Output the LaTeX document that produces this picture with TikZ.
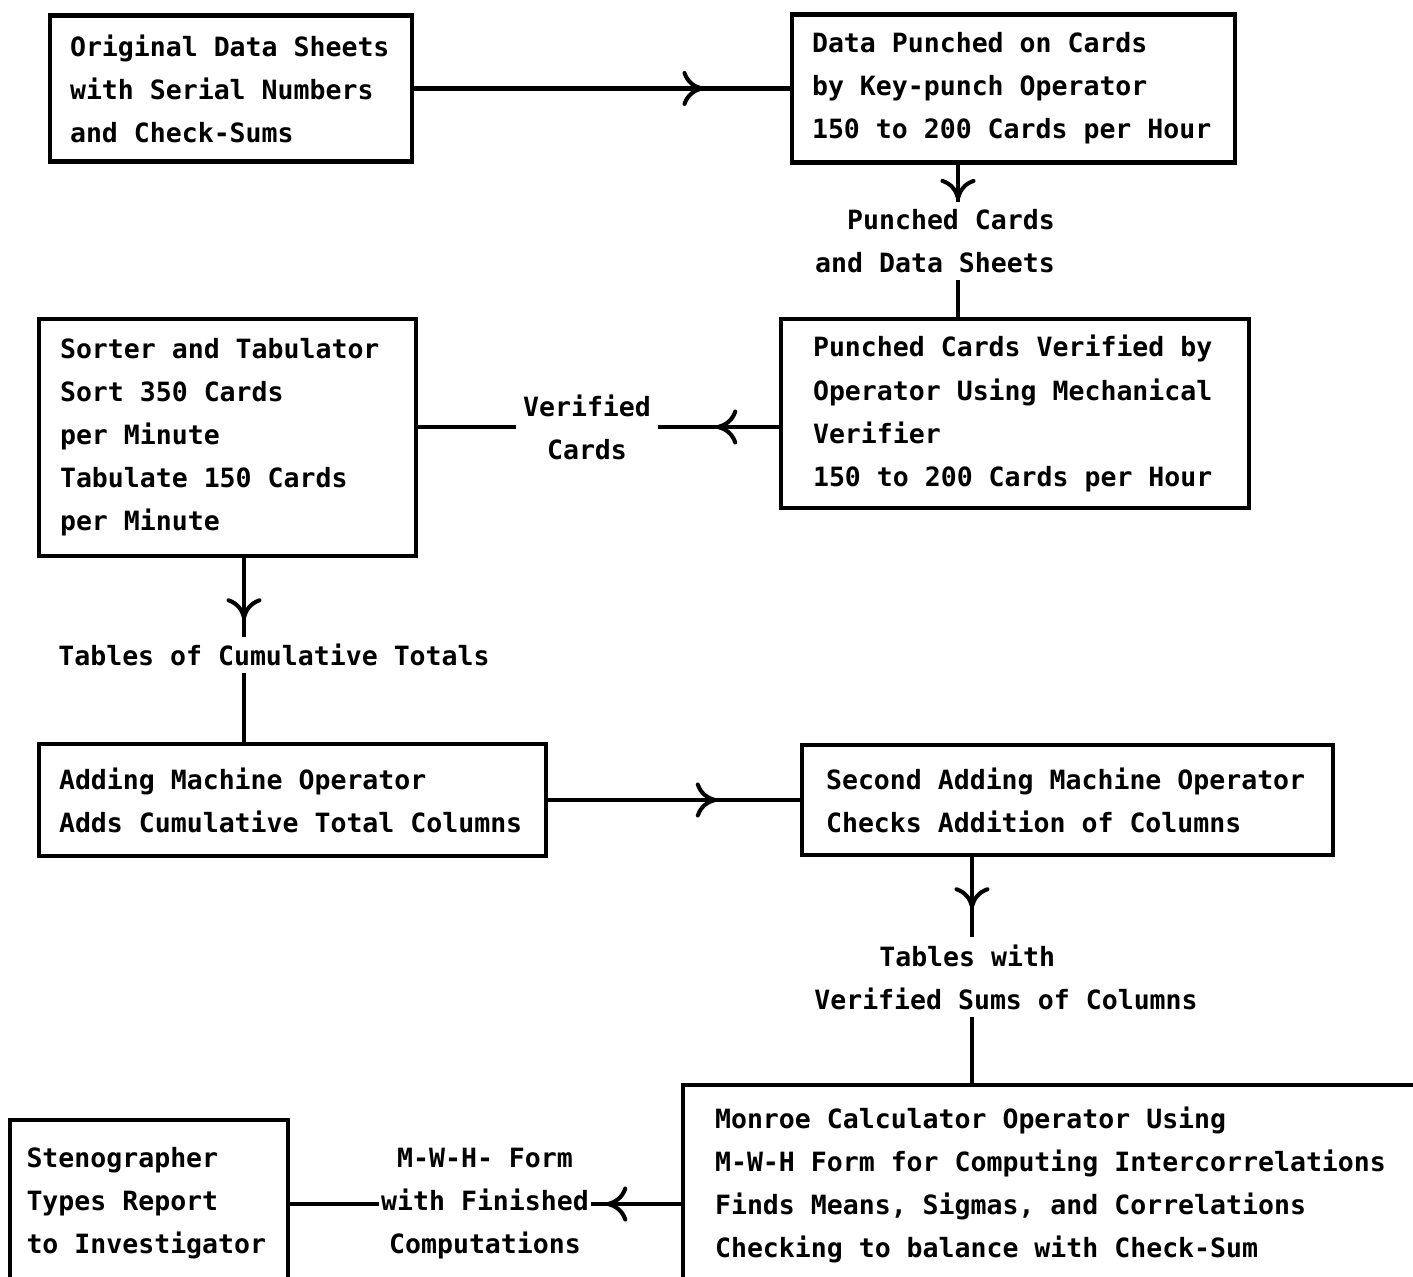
\documentclass[tikz,border=0pt]{standalone}
\usepackage{fontspec}
\usetikzlibrary{arrows.meta,decorations.markings}
\newfontfamily\typefont{DejaVu Sans Mono}
\newcommand{\boxfont}{\typefont\bfseries\fontsize{15.1}{24.5}\selectfont}

\tikzset{
  stage/.style={draw, line width=2.3pt, align=left, font=\boxfont, inner ysep=0pt,
    execute at begin node={\spaceskip=0pt\xspaceskip=0pt}},
  tag/.style={font=\boxfont, inner xsep=4pt, inner ysep=4pt},
  flow/.style={line width=2.3pt},
  midtip/.style={postaction={decorate},
    decoration={markings, mark=at position #1 with {\arrow{Computer Modern Rightarrow[length=12pt,width=20pt]}}}}
}

\begin{document}
\begin{tikzpicture}[x=0.02cm, y=-0.02cm]
  \useasboundingbox (0,0) rectangle (1413,1277);
  \clip (0,0) rectangle (1413,1277);

  % boxes
  \node[stage, minimum width=7.24cm, minimum height=2.92cm, text width=6.44cm, inner xsep=0.40cm] (orig) at (231,88.5)
    {Original Data Sheets\\with Serial Numbers\\and Check-Sums};
  \node[stage, minimum width=8.86cm, minimum height=2.96cm, text width=8.06cm, inner xsep=0.40cm] (dpc) at (1013.5,88.5)
    {Data Punched on Cards\\by Key-punch Operator\\150 to 200 Cards per Hour};
  \node[stage, minimum width=9.36cm, minimum height=3.78cm, text width=8.08cm, inner xsep=0.64cm] (pcv) at (1015,413.5)
    {Punched Cards Verified by\\Operator Using Mechanical\\Verifier\\150 to 200 Cards per Hour};
  \node[stage, minimum width=7.54cm, minimum height=4.74cm, text width=6.70cm, inner xsep=0.42cm] (sort) at (227.5,437.5)
    {Sorter and Tabulator\\Sort 350 Cards\\per Minute\\Tabulate 150 Cards\\per Minute};
  \node[stage, minimum width=10.14cm, minimum height=2.24cm, text width=9.34cm, inner xsep=0.40cm] (add) at (292.5,800)
    {Adding Machine Operator\\Adds Cumulative Total Columns};
  \node[stage, minimum width=10.62cm, minimum height=2.20cm, text width=9.66cm, inner xsep=0.48cm] (chk) at (1067.5,800)
    {Second Adding Machine Operator\\Checks Addition of Columns};
  \node[stage, minimum width=15.14cm, minimum height=4.00cm, text width=13.86cm, inner xsep=0.64cm] (monroe) at (1061.5,1185)
    {Monroe Calculator Operator Using\\M-W-H Form for Computing Intercorrelations\\Finds Means, Sigmas, and Correlations\\Checking to balance with Check-Sum};
  \node[stage, minimum width=5.56cm, minimum height=3.32cm, text width=4.90cm, inner xsep=0.33cm] (steno) at (149,1203)
    {Stenographer\\Types Report\\to Investigator};

  % labels between the boxes
  \node[tag, align=right] (pcl) at (935,241) {Punched Cards\\and Data Sheets};
  \node[tag, align=center] (vc) at (587,427) {Verified\\Cards};
  \node[tag] (tct) at (274,655) {Tables of Cumulative Totals};
  \node[tag, align=left] (tvs) at (1006,977) {\hspace*{1.3cm}Tables with\\Verified Sums of Columns};
  \node[tag, align=center, inner xsep=1pt] (mwh) at (485,1204) {M-W-H- Form\\with Finished\\Computations};

  \coordinate (k1) at (958,0);
  \coordinate (k2) at (244,0);
  \coordinate (k3) at (972,0);

  % connectors
  \draw[flow, midtip=0.77] (orig.east) -- (dpc.west);
  \draw[flow, midtip=0.95] (dpc.south -| k1) -- (pcl.north -| k1);
  \draw[flow] (pcl.south -| k1) -- (pcv.north -| k1);
  \draw[flow, midtip=0.52] (pcv.west |- vc) -- (vc.east);
  \draw[flow] (vc.west) -- (sort.east |- vc);
  \draw[flow, midtip=0.78] (sort.south -| k2) -- (tct.north -| k2);
  \draw[flow] (tct.south -| k2) -- (add.north -| k2);
  \draw[flow, midtip=0.67] (add.east) -- (chk.west);
  \draw[flow, midtip=0.64] (chk.south -| k3) -- (tvs.north -| k3);
  \draw[flow] (tvs.south -| k3) -- (monroe.north -| k3);
  \draw[flow, midtip=0.83] (monroe.west |- mwh) -- (mwh.east);
  \draw[flow] (mwh.west) -- (steno.east |- mwh);
\end{tikzpicture}
\end{document}
